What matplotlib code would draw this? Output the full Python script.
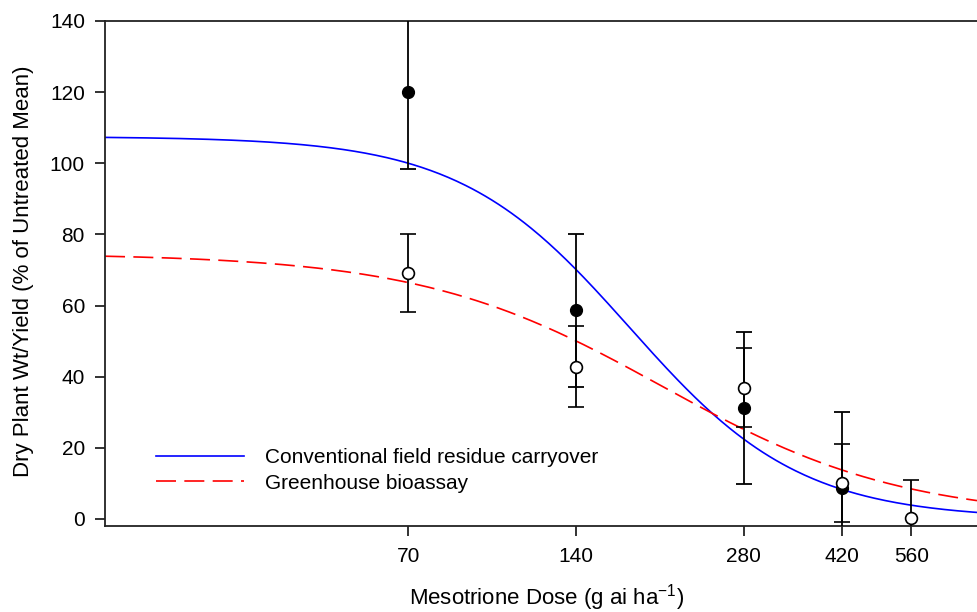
import matplotlib
matplotlib.use("Agg")
import matplotlib.pyplot as plt
import numpy as np

plt.rcParams['font.family'] = ['Liberation Sans', 'DejaVu Sans']
plt.rcParams['mathtext.fontset'] = 'custom'
plt.rcParams['mathtext.rm'] = 'Liberation Sans'

# doses (g ai/ha)
doses = [70, 140, 280, 420, 560]

# conventional field residue carryover (filled)
field_dose = [70, 140, 280, 420]
field_mean = [120.0, 58.6, 31.1, 8.6]
field_err = [21.7, 21.6, 21.4, 21.4]

# greenhouse bioassay (open)
gh_dose = [70, 140, 280, 420, 560]
gh_mean = [69.2, 42.8, 36.9, 10.2, 0.2]
gh_err = [11.0, 11.3, 11.2, 11.0, 10.8]

# fitted log-logistic parameters: top, ED50, slope
field_fit = (107.5, 175.0, 2.83)
gh_fit = (74.6, 200.0, 2.0)


def loglogistic(x, top, ed50, slope):
    return top / (1 + (x / ed50) ** slope)


fig = plt.figure(figsize=(9.77, 6.12), dpi=100)
ax = fig.add_axes([0.1075, 0.1405, 0.8925, 0.8252])

xx = np.geomspace(20, 735, 400)
ax.plot(xx, loglogistic(xx, *field_fit), color='#0000ff', lw=1.2,
        label='Conventional field residue carryover')
ax.plot(xx, loglogistic(xx, *gh_fit), color='#ff0000', lw=1.2,
        dashes=(12, 5), label='Greenhouse bioassay')

ax.errorbar(field_dose, field_mean, yerr=field_err, fmt='o', color='black',
            ecolor='black', elinewidth=1.3, capsize=5.5, capthick=1.3,
            markersize=8.5, zorder=4)
ax.errorbar(gh_dose, gh_mean, yerr=gh_err, fmt='o', mfc='white', mec='black',
            mew=1.2, ecolor='black', elinewidth=1.3, capsize=5.5, capthick=1.3,
            markersize=8.5, zorder=5)

ax.set_xscale('log')
ax.set_xlim(20, 735)
ax.set_ylim(-2, 140)
ax.xaxis.set_major_locator(matplotlib.ticker.FixedLocator(doses))
ax.xaxis.set_minor_locator(matplotlib.ticker.NullLocator())
ax.set_xticklabels([str(d) for d in doses])
ax.set_yticks(range(0, 141, 20))

for s in ['left', 'top', 'bottom']:
    ax.spines[s].set_linewidth(1.3)
    ax.spines[s].set_color('#222222')
ax.spines['right'].set_visible(False)
ax.tick_params(length=7, width=1.3, color='#222222', labelsize=15)
ax.tick_params(axis='x', pad=8)
ax.tick_params(axis='y', pad=7.5)

ax.set_xlabel('Mesotrione Dose (g ai ha$^{\\mathregular{-1}}$)', fontsize=16)
ax.xaxis.set_label_coords(0.506, -0.111)
ax.set_ylabel('Dry Plant Wt/Yield (% of Untreated Mean)', fontsize=16)
ax.yaxis.set_label_coords(-0.0814, 0.505)

ax.legend(loc='upper left', bbox_to_anchor=(0.1408, 0.298), frameon=False,
          fontsize=15, handlelength=4.2, handletextpad=1.0, labelspacing=0.3,
          bbox_transform=fig.transFigure)

fig.savefig('out.png', dpi=100)
